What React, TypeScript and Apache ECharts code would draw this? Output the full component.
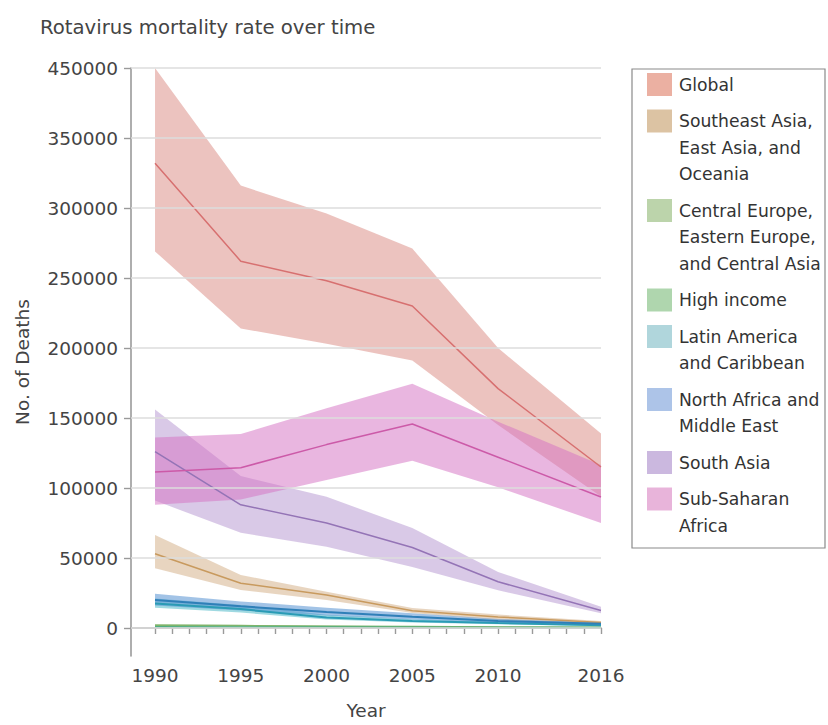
import React, { useEffect, useRef } from "react";
import * as echarts from "echarts";

// Estimated deaths (point estimate with lower/upper uncertainty bounds)
const years = [1990, 1995, 2000, 2005, 2010, 2016];

const globalMean = [332000, 262000, 248000, 230000, 171000, 115000];
const globalLower = [269000, 214000, 203000, 191000, 145000, 94000];
const globalUpper = [400000, 316000, 296000, 271000, 200000, 139000];

const seAsiaMean = [53000, 32000, 23600, 12400, 7900, 4000];
const seAsiaLower = [42600, 27100, 20000, 10700, 5700, 3000];
const seAsiaUpper = [66400, 37900, 25900, 14300, 9600, 5000];

const centralEuropeMean = [2000, 1700, 1300, 1000, 700, 500];
const centralEuropeLower = [1500, 1300, 1000, 750, 500, 350];
const centralEuropeUpper = [2600, 2200, 1700, 1300, 900, 650];

const highIncomeMean = [900, 800, 700, 600, 400, 300];
const highIncomeLower = [650, 600, 500, 450, 300, 200];
const highIncomeUpper = [1200, 1050, 900, 800, 550, 400];

const latinAmericaMean = [17500, 13500, 7500, 5000, 3500, 2000];
const latinAmericaLower = [14500, 11000, 6000, 4000, 2700, 1500];
const latinAmericaUpper = [21000, 16500, 9500, 6200, 4500, 2800];

const northAfricaMean = [20000, 15500, 11500, 8000, 5000, 3000];
const northAfricaLower = [16000, 12500, 9000, 6000, 3800, 2200];
const northAfricaUpper = [24500, 19000, 14500, 10500, 6500, 4000];

const southAsiaMean = [126000, 88000, 75000, 57500, 33000, 12500];
const southAsiaLower = [91000, 68000, 58000, 43500, 27000, 10500];
const southAsiaUpper = [156000, 108500, 93700, 71400, 40000, 15200];

const subSaharanMean = [111500, 114500, 131000, 145700, 122000, 93600];
const subSaharanLower = [88000, 91800, 105700, 119500, 100500, 75000];
const subSaharanUpper = [136000, 138500, 157000, 174500, 147400, 116400];

// Axis ticks and their printed labels
const yTickValues = [0, 50000, 100000, 150000, 200000, 250000, 300000, 350000, 400000];
const yTickLabels = ["0", "50000", "100000", "150000", "200000", "250000", "300000", "350000", "450000"];
const xMinorTicks = [
  1990, 1991, 1992, 1993, 1994, 1995, 1996, 1997, 1998, 1999, 2000, 2001, 2002, 2003,
  2004, 2005, 2006, 2007, 2008, 2009, 2010, 2011, 2012, 2013, 2014, 2015, 2016,
];
const xLabelYears = [1990, 1995, 2000, 2005, 2010, 2016];

// Legend entries (names broken across lines as printed)
const legendLabels = [
  "Global",
  "Southeast Asia,\nEast Asia, and\nOceania",
  "Central Europe,\nEastern Europe,\nand Central Asia",
  "High income",
  "Latin America\nand Caribbean",
  "North Africa and\nMiddle East",
  "South Asia",
  "Sub-Saharan\nAfrica",
];
const legendSwatches = ["#ebb0a2", "#dcc3a3", "#bcd4ab", "#afd6ae", "#b0d6dc", "#adc4e8", "#cbb8df", "#e8b4da"];

const FONT = '"DejaVu Sans", sans-serif';

type Region = {
  name: string;
  mean: number[];
  lower: number[];
  upper: number[];
  band: string;
  line: string;
  width: number;
};

const regions: Region[] = [
  { name: "Global", mean: globalMean, lower: globalLower, upper: globalUpper, band: "rgba(218,140,132,0.52)", line: "#d77070", width: 1.5 },
  { name: "Southeast Asia, East Asia, and Oceania", mean: seAsiaMean, lower: seAsiaLower, upper: seAsiaUpper, band: "rgba(210,175,135,0.52)", line: "#c89a5e", width: 1.5 },
  { name: "Central Europe, Eastern Europe, and Central Asia", mean: centralEuropeMean, lower: centralEuropeLower, upper: centralEuropeUpper, band: "rgba(120,175,97,0.55)", line: "#7fb46a", width: 1.5 },
  { name: "High income", mean: highIncomeMean, lower: highIncomeLower, upper: highIncomeUpper, band: "rgba(97,184,120,0.55)", line: "#4fae82", width: 1.5 },
  { name: "Latin America and Caribbean", mean: latinAmericaMean, lower: latinAmericaLower, upper: latinAmericaUpper, band: "rgba(80,185,200,0.55)", line: "#2a9bb5", width: 2 },
  { name: "North Africa and Middle East", mean: northAfricaMean, lower: northAfricaLower, upper: northAfricaUpper, band: "rgba(85,145,210,0.55)", line: "#2f7fb8", width: 2 },
  { name: "South Asia", mean: southAsiaMean, lower: southAsiaLower, upper: southAsiaUpper, band: "rgba(182,151,209,0.52)", line: "#9474b6", width: 1.5 },
  { name: "Sub-Saharan Africa", mean: subSaharanMean, lower: subSaharanLower, upper: subSaharanUpper, band: "rgba(213,115,195,0.52)", line: "#cc5aa8", width: 1.5 },
];

function buildSeries() {
  const bands: any[] = [];
  const lines: any[] = [];
  regions.forEach((r, i) => {
    // Uncertainty band: one polygon running along the upper bound and back along the lower bound
    bands.push({
      type: "custom",
      name: r.name + " range",
      data: years.map((y, k) => [y, r.lower[k], r.upper[k]]),
      encode: { x: 0, y: [1, 2] },
      silent: true,
      z: 2,
      renderItem: (params: any, api: any) => {
        if (params.dataIndex !== 0) return null;
        const top = years.map((y, k) => api.coord([y, r.upper[k]]));
        const bottom = years.map((y, k) => api.coord([y, r.lower[k]])).reverse();
        return {
          type: "polygon",
          shape: { points: [...top, ...bottom] },
          style: { fill: r.band },
        };
      },
      ...(i === 0
        ? {
            markLine: {
              silent: true,
              symbol: ["none", "none"],
              label: { show: false },
              lineStyle: { color: "#dcdcdc", type: "solid", width: 1.5 },
              data: yTickValues.map((v) => ({ yAxis: v })),
            },
          }
        : {}),
    });
    lines.push({
      type: "line",
      name: r.name,
      data: years.map((y, k) => [y, r.mean[k]]),
      symbol: "none",
      lineStyle: { color: r.line, width: r.width },
      silent: true,
      z: 3,
    });
  });
  return [...bands, ...lines];
}

function buildLegend() {
  const elements: any[] = [];
  elements.push({
    type: "rect",
    shape: { x: 632, y: 69, width: 193, height: 479 },
    style: { fill: "#fff", stroke: "#8a8a8a", lineWidth: 1.2 },
    z: 10,
  });
  const lineH = 26.5;
  let y0 = 73;
  legendLabels.forEach((label, i) => {
    const nLines = label.split("\n").length;
    elements.push({
      type: "rect",
      shape: { x: 647, y: y0, width: 25, height: 23 },
      style: { fill: legendSwatches[i] },
      z: 11,
    });
    elements.push({
      type: "text",
      x: 679,
      y: y0 + 11.5 - lineH / 2,
      style: {
        text: label,
        fontFamily: FONT,
        fontSize: 17.2,
        lineHeight: lineH,
        fill: "#333",
        verticalAlign: "top",
        align: "left",
      },
      z: 11,
    });
    y0 += nLines * lineH + 10;
  });
  return elements;
}

export default function App() {
  const ref = useRef<HTMLDivElement>(null);

  useEffect(() => {
    if (!ref.current) return;
    const chart = echarts.init(ref.current, undefined, { renderer: "svg" });
    chart.setOption({
      animation: false,
      backgroundColor: "#fff",
      textStyle: { fontFamily: FONT },
      title: {
        text: "Rotavirus mortality rate over time",
        left: 35,
        top: 12,
        textStyle: { fontFamily: FONT, fontSize: 19.7, fontWeight: "normal", color: "#444" },
      },
      grid: { left: 131, right: 227, top: 68, bottom: 68, containLabel: false },
      xAxis: {
        type: "value",
        min: 1988.6,
        max: 2016,
        name: "Year",
        nameLocation: "middle",
        nameGap: 45,
        nameTextStyle: { fontFamily: FONT, fontSize: 18.5, color: "#444" },
        axisLine: { show: true, lineStyle: { color: "#9a9a9a", width: 1.6 } },
        axisTick: { show: true, length: 6, customValues: xMinorTicks, lineStyle: { color: "#9a9a9a", width: 1.4 } },
        axisLabel: {
          customValues: xLabelYears,
          formatter: (v: number) => String(v),
          fontFamily: FONT,
          fontSize: 18.5,
          color: "#444",
          margin: 10,
        },
        splitLine: { show: false },
      },
      yAxis: {
        type: "value",
        min: -20000,
        max: 400000,
        name: "No. of Deaths",
        nameLocation: "middle",
        nameRotate: 90,
        nameGap: 99,
        nameTextStyle: { fontFamily: FONT, fontSize: 18.5, color: "#444" },
        axisLine: { show: true, lineStyle: { color: "#9a9a9a", width: 1.6 } },
        axisTick: { show: true, length: 7, customValues: yTickValues, lineStyle: { color: "#9a9a9a", width: 1.4 } },
        axisLabel: {
          customValues: yTickValues,
          formatter: (v: number) => {
            const idx = yTickValues.indexOf(v);
            return idx >= 0 ? yTickLabels[idx] : "";
          },
          fontFamily: FONT,
          fontSize: 18.5,
          color: "#444",
          margin: 13,
        },
        splitLine: { show: false },
      },
      series: buildSeries(),
      graphic: buildLegend(),
    });
    return () => chart.dispose();
  }, []);

  return (
    <div
      ref={ref}
      style={{ position: "fixed", left: 0, top: 0, width: 828, height: 725, background: "#fff" }}
    />
  );
}
